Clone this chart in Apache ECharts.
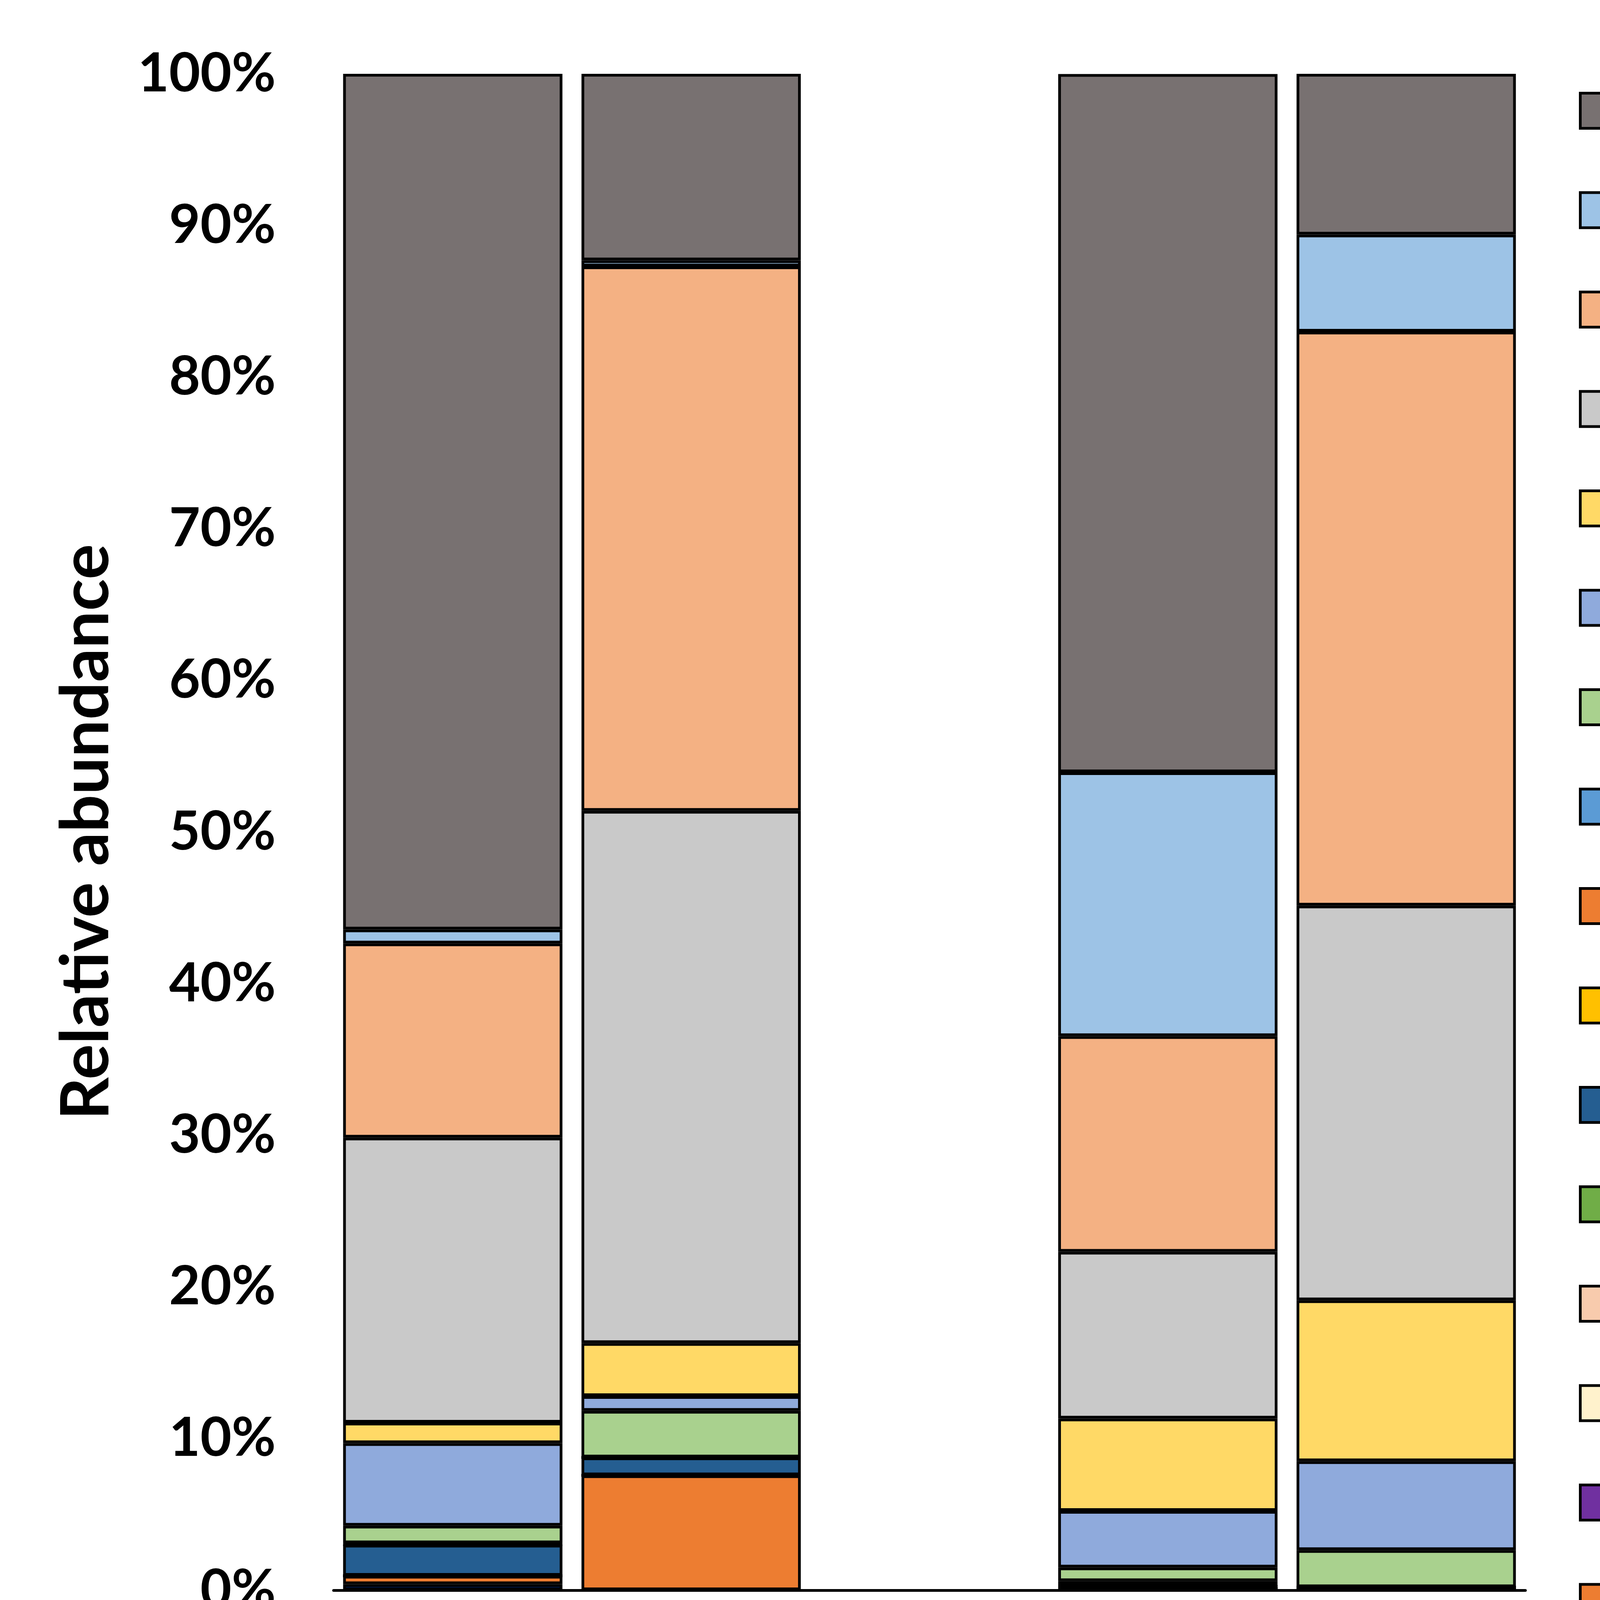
<!DOCTYPE html>
<html>
<head>
<meta charset="utf-8">
<script src="https://cdn.jsdelivr.net/npm/echarts@6/dist/echarts.min.js"></script>
<style>
  html, body { margin: 0; padding: 0; background: #fff; }
  #main { width: 6664px; height: 5064px; }
</style>
</head>
<body>
<div id="main"></div>
<script>
// samples (the empty one is the gap between the two groups)
var samples = ['black biofilm I', 'black solution I', '', 'black biofilm II', 'black solution II'];
var yTicks = [0, 10, 20, 30, 40, 50, 60, 70, 80, 90, 100];

// genera in legend order (top of the stack first), values in %
var genera = ['g:Bacillus', 'g:Pseudomonas', 'g:Erwinia', 'g:unclassified_f_Enterobacteriaceae',
  'g:Klebsiella', 'g:Acinetobacter', 'g:Escherichia/Shigella', 'g:Burkholderia',
  'g:Stenotrophomonas', 'g:Achromobacter', 'g:Aeromonas', 'g:Enterobacter',
  'g:Brevibacillus', 'g:Chryseobacterium', 'g:unclassified_f_Xanthomonadaceae',
  'g:Clostridium_sensu_stricto', 'g:Comamonas'];
var colors = ['#787171', '#9DC3E6', '#F4B183', '#C9C9C9', '#FFD966', '#8FAADC', '#A9D18E',
  '#5B9BD5', '#ED7D31', '#FFC000', '#255E91', '#70AD47', '#F8CBAD', '#FFF2CC', '#7030A0',
  '#ED7D31', '#002060'];

var bacillus       = [56.43, 12.3, null, 46.05, 10.6];
var pseudomonas    = [0.92, 0.4, null, 17.4, 6.4];
var erwinia        = [12.8, 35.9, null, 14.22, 37.85];
var unclEntero     = [18.8, 35.1, null, 11.0, 26.03];
var klebsiella     = [1.35, 3.5, null, 6.09, 10.61];
var acinetobacter  = [5.44, 0.97, null, 3.73, 5.86];
var escherichia    = [1.16, 3.07, null, 0.9, 2.45];
var burkholderia   = [0.05, 0, null, 0.35, 0];
var stenotroph     = [0.05, 0, null, 0, 0];
var achromobacter  = [0, 0, null, 0, 0];
var aeromonas      = [2.05, 1.18, null, 0.15, 0.05];
var enterobacter   = [0, 0, null, 0, 0.05];
var brevibacillus  = [0, 0, null, 0, 0.05];
var chryseobact    = [0, 0, null, 0, 0];
var unclXantho     = [0, 0, null, 0, 0];
var clostridium    = [0.55, 7.58, null, 0, 0];
var comamonas      = [0.4, 0, null, 0.1, 0.05];

var values = [bacillus, pseudomonas, erwinia, unclEntero, klebsiella, acinetobacter, escherichia,
  burkholderia, stenotroph, achromobacter, aeromonas, enterobacter, brevibacillus, chryseobact,
  unclXantho, clostridium, comamonas];

var series = [];
// bottom of the stack first
for (var i = genera.length - 1; i >= 0; i--) {
  series.push({
    name: genera[i],
    type: 'bar',
    stack: 'total',
    barCategoryGap: '8%',
    data: values[i],
    itemStyle: { color: colors[i], borderColor: '#000', borderWidth: 7 }
  });
}

var myChart = echarts.init(document.getElementById('main'));
var option = {
  backgroundColor: '#fff',
  animation: false,
  grid: { left: 854, top: 189, width: 3051, height: 3882 },
  legend: {
    orient: 'vertical',
    left: 4042,
    top: 206,
    padding: 0,
    data: genera,
    icon: 'rect',
    itemWidth: 90,
    itemHeight: 90,
    itemGap: 99.5,
    selectedMode: false,
    itemStyle: { borderColor: '#000', borderWidth: 7 },
    textStyle: {
      fontFamily: 'Lato', fontWeight: 'bold', fontStyle: 'italic',
      fontSize: 155, color: '#000', padding: [0, 0, 0, 33]
    }
  },
  xAxis: {
    type: 'category',
    data: samples,
    axisLine: { lineStyle: { color: '#000', width: 7 } },
    axisTick: { show: false },
    axisLabel: {
      interval: 0, rotate: 45, margin: 121, verticalAlign: 'top',
      fontFamily: 'Lato', fontWeight: 'bold', fontSize: 145, color: '#000'
    }
  },
  yAxis: {
    type: 'value',
    min: yTicks[0],
    max: yTicks[yTicks.length - 1],
    interval: 10,
    name: 'Relative abundance',
    nameLocation: 'middle',
    nameRotate: 90,
    nameGap: 547,
    nameTextStyle: { fontFamily: 'Lato', fontWeight: 'bold', fontSize: 170, color: '#000' },
    axisLine: { show: false },
    axisTick: { show: false },
    splitLine: { show: false },
    axisLabel: {
      margin: 148, formatter: '{value}%',
      fontFamily: 'Lato', fontWeight: 'bold', fontSize: 138, color: '#000'
    }
  },
  series: series
};
myChart.setOption(option);
window.addEventListener("resize", function () {
  myChart.resize();
});
</script>
</body>
</html>
